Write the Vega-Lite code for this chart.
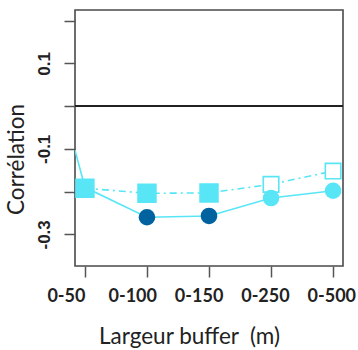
{
  "$schema": "https://vega.github.io/schema/vega-lite/v6.json",
  "width": 268,
  "height": 256,
  "autosize": {"type": "none"},
  "padding": {"left": 75, "top": 10, "right": 15, "bottom": 84},
  "background": "white",
  "config": {
    "view": {"stroke": "#4a4a4a", "strokeWidth": 1.6},
    "axis": {"grid": false, "domain": false, "tickColor": "#555555", "tickWidth": 1.5, "tickSize": 11}
  },
  "data": {
    "values": [
      {"serie": "carres", "pos": 1, "r": -0.192, "signif": "oui"},
      {"serie": "carres", "pos": 2, "r": -0.204, "signif": "oui"},
      {"serie": "carres", "pos": 3, "r": -0.203, "signif": "oui"},
      {"serie": "carres", "pos": 4, "r": -0.183, "signif": "non"},
      {"serie": "carres", "pos": 5, "r": -0.152, "signif": "non"},
      {"serie": "cercles", "pos": 0.84, "r": -0.103, "signif": "aucun"},
      {"serie": "cercles", "pos": 1, "r": -0.19, "signif": "aucun"},
      {"serie": "cercles", "pos": 2, "r": -0.26, "signif": "oui"},
      {"serie": "cercles", "pos": 3, "r": -0.257, "signif": "oui"},
      {"serie": "cercles", "pos": 4, "r": -0.215, "signif": "non"},
      {"serie": "cercles", "pos": 5, "r": -0.198, "signif": "non"}
    ]
  },
  "encoding": {
    "x": {
      "field": "pos", "type": "quantitative",
      "scale": {"domain": [0.84, 5.16], "nice": false, "zero": false},
      "axis": {
        "values": [1, 2, 3, 4, 5],
        "labelExpr": "['', '0-50', '0-100', '0-150', '0-250', '0-500'][datum.value]",
        "labelOffset": {"expr": "-19 + (datum.value - 1) * 4.3"},
        "labelFont": "Lato", "labelFontWeight": "bold", "labelFontSize": 18, "labelColor": "#222222",
        "labelPadding": 10, "labelBaseline": "top", "labelFlush": false, "labelOverlap": false,
        "title": "Largeur buffer \u00a0(m)", "titleFont": "Lato", "titleFontWeight": "normal", "titleFontSize": 22.5,
        "titleColor": "#222222", "titleX": 114, "titleY": 77, "titleBaseline": "alphabetic", "titleAnchor": null, "titleAlign": "center"
      }
    },
    "y": {
      "field": "r", "type": "quantitative",
      "scale": {"domain": [-0.374, 0.2247], "nice": false, "zero": false},
      "axis": {
        "values": [0.2, 0.1, 0, -0.1, -0.2, -0.3],
        "labelExpr": "datum.value > 0.05 && datum.value < 0.15 ? '0.1' : (datum.value < -0.05 && datum.value > -0.15 ? '-0.1' : (datum.value < -0.25 ? '-0.3' : ''))",
        "labelAngle": 270, "labelAlign": "center", "labelBaseline": "bottom",
        "labelFont": "Liberation Sans", "labelFontWeight": "bold", "labelFontSize": 17, "labelColor": "#222222",
        "labelPadding": 11, "labelOverlap": false,
        "title": "Corrélation", "titleFont": "Lato", "titleFontWeight": "normal", "titleFontSize": 22.5,
        "titleColor": "#222222", "titleAngle": 270, "titleX": -52, "titleY": 149, "titleBaseline": "alphabetic", "titleAlign": "center", "titleAnchor": null
      }
    }
  },
  "layer": [
    {
      "mark": {"type": "rule", "color": "#222222", "strokeWidth": 1.3},
      "encoding": {"y": {"datum": 0}, "x": null}
    },
    {
      "transform": [{"filter": "datum.serie == 'cercles'"}],
      "mark": {"type": "line", "color": "#58E6F7", "strokeWidth": 1.6, "clip": true}
    },
    {
      "transform": [{"filter": "datum.serie == 'carres'"}],
      "mark": {"type": "line", "color": "#58E6F7", "strokeWidth": 1.6, "strokeDash": [7, 4, 2, 4], "clip": true}
    },
    {
      "transform": [{"filter": "datum.serie == 'carres'"}],
      "mark": {"type": "point", "shape": "square", "filled": true, "strokeWidth": 1.6, "stroke": "#58E6F7", "opacity": 1},
      "encoding": {
        "fill": {"field": "signif", "type": "nominal", "scale": {"domain": ["oui", "non"], "range": ["#58E6F7", "#ffffff"]}, "legend": null},
        "size": {"field": "signif", "type": "nominal", "scale": {"domain": ["oui", "non"], "range": [320, 240]}, "legend": null}
      }
    },
    {
      "transform": [{"filter": "datum.serie == 'cercles' && datum.signif != 'aucun'"}],
      "mark": {"type": "circle", "size": 275, "opacity": 1},
      "encoding": {
        "color": {"field": "signif", "type": "nominal", "scale": {"domain": ["oui", "non"], "range": ["#00629E", "#58E6F7"]}, "legend": null}
      }
    }
  ]
}
